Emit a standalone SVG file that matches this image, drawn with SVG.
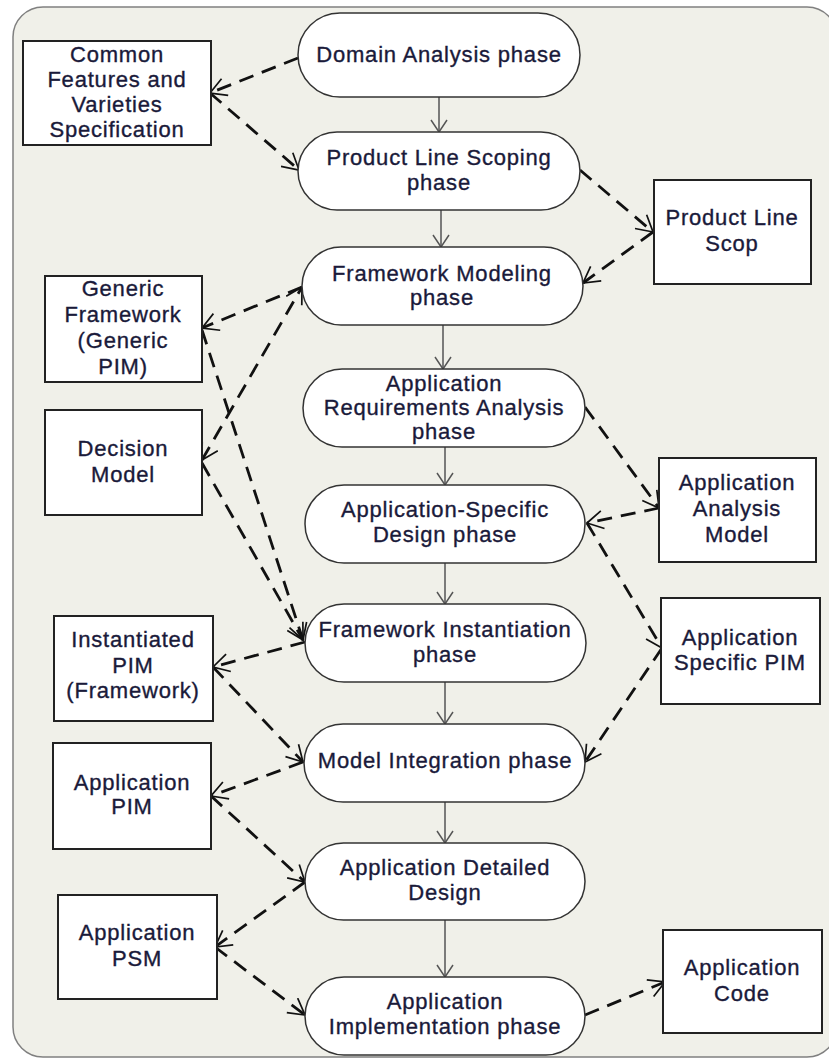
<svg xmlns="http://www.w3.org/2000/svg" width="829" height="1059" viewBox="0 0 829 1059">
<style>
.bg{fill:#f0f0e9;stroke:#808080;stroke-width:1.5}
.ph{fill:#fff;stroke:#333;stroke-width:1.5}
.bx{fill:#fff;stroke:#222;stroke-width:2}
text{font-family:"Liberation Sans",Arial,sans-serif;font-size:22px;letter-spacing:0.8px;fill:#1a1a3a;stroke:#1a1a3a;stroke-width:0.35;text-anchor:middle}
.flow{stroke:#555;stroke-width:1.5;fill:none;marker-end:url(#va)}
.dep{stroke:#111;stroke-width:2.8;fill:none;stroke-dasharray:15 9;marker-end:url(#da)}
</style>
<defs>
<marker id="va" markerUnits="userSpaceOnUse" viewBox="0 0 14 18" refX="13" refY="9" markerWidth="14" markerHeight="18" orient="auto">
<path d="M1,1 L13,9 L1,17" fill="none" stroke="#555" stroke-width="1.5"/>
</marker>
<marker id="da" markerUnits="userSpaceOnUse" viewBox="0 0 18 20" refX="17" refY="10" markerWidth="18" markerHeight="20" orient="auto-start-reverse">
<path d="M1,1 L17,10 L1,19" fill="none" stroke="#111" stroke-width="1.7" stroke-dasharray="none"/>
</marker>
</defs>
<rect class="bg" x="13" y="7" width="824" height="1050" rx="30"/>

<g id="connectors">
<path class="flow" d="M439,97 L439,132"/>
<path class="flow" d="M441,210 L441,247"/>
<path class="flow" d="M443,325 L443,369"/>
<path class="flow" d="M445,447 L445,485"/>
<path class="flow" d="M445,563 L445,604"/>
<path class="flow" d="M445,682 L445,724"/>
<path class="flow" d="M445,802 L445,843"/>
<path class="flow" d="M445,920 L445,977"/>
<path class="dep" d="M298,58 L210,93"/>
<path class="dep" d="M210,93 L299,170"/>
<path class="dep" d="M580,170 L653,232"/>
<path class="dep" d="M653,232 L583,283"/>
<path class="dep" d="M302,287 L202,328"/>
<path class="dep" d="M202,460 L302,287" marker-start="url(#da)"/>
<path class="dep" d="M202,330 L303,640"/>
<path class="dep" d="M202,463 L303,640"/>
<path class="dep" d="M305,642 L213,667"/>
<path class="dep" d="M213,667 L303,762"/>
<path class="dep" d="M303,762 L211,796"/>
<path class="dep" d="M211,796 L305,882"/>
<path class="dep" d="M305,882 L215,947"/>
<path class="dep" d="M215,947 L305,1015"/>
<path class="dep" d="M585,1015 L665,982"/>
<path class="dep" d="M585,407 L659,508"/>
<path class="dep" d="M659,508 L587,523"/>
<path class="dep" d="M587,523 L662,648"/>
<path class="dep" d="M662,648 L585,762"/>
</g>

<g id="domain-analysis"><rect class="ph" x="298" y="13" width="282" height="84" rx="42"/><text x="439" y="62">Domain Analysis phase</text></g>
<g id="product-line-scoping"><rect class="ph" x="298" y="132" width="282" height="78" rx="39"/><text x="439" y="165">Product Line Scoping</text><text x="439" y="190">phase</text></g>
<g id="framework-modeling"><rect class="ph" x="302" y="247" width="281" height="78" rx="39"/><text x="442" y="281">Framework Modeling</text><text x="442" y="305">phase</text></g>
<g id="app-req-analysis"><rect class="ph" x="303" y="369" width="282" height="78" rx="39"/><text x="444" y="391">Application</text><text x="444" y="415">Requirements Analysis</text><text x="444" y="439">phase</text></g>
<g id="app-specific-design"><rect class="ph" x="305" y="485" width="280" height="78" rx="39"/><text x="445" y="517">Application-Specific</text><text x="445" y="542">Design phase</text></g>
<g id="framework-instantiation"><rect class="ph" x="305" y="604" width="281" height="78" rx="39"/><text x="445" y="637">Framework Instantiation</text><text x="445" y="662">phase</text></g>
<g id="model-integration"><rect class="ph" x="304" y="724" width="281" height="78" rx="39"/><text x="445" y="768">Model Integration phase</text></g>
<g id="app-detailed-design"><rect class="ph" x="305" y="843" width="280" height="77" rx="38.5"/><text x="445" y="875">Application Detailed</text><text x="445" y="900">Design</text></g>
<g id="app-implementation"><rect class="ph" x="305" y="977" width="280" height="78" rx="39"/><text x="445" y="1009">Application</text><text x="445" y="1034">Implementation phase</text></g>

<g id="common-features"><rect class="bx" x="23" y="41" width="188" height="104"/><text x="117" y="62">Common</text><text x="117" y="87">Features and</text><text x="117" y="112">Varieties</text><text x="117" y="137">Specification</text></g>
<g id="generic-framework"><rect class="bx" x="45" y="276" width="157" height="106"/><text x="123" y="296">Generic</text><text x="123" y="322">Framework</text><text x="123" y="348">(Generic</text><text x="123" y="374">PIM)</text></g>
<g id="decision-model"><rect class="bx" x="45" y="410" width="157" height="105"/><text x="123" y="456">Decision</text><text x="123" y="482">Model</text></g>
<g id="instantiated-pim"><rect class="bx" x="54" y="616" width="159" height="105"/><text x="133" y="647">Instantiated</text><text x="133" y="673">PIM</text><text x="133" y="698">(Framework)</text></g>
<g id="application-pim"><rect class="bx" x="53" y="743" width="158" height="106"/><text x="132" y="790">Application</text><text x="132" y="814">PIM</text></g>
<g id="application-psm"><rect class="bx" x="58" y="895" width="159" height="104"/><text x="137" y="940">Application</text><text x="137" y="966">PSM</text></g>
<g id="product-line-scop"><rect class="bx" x="654" y="180" width="157" height="104"/><text x="732" y="225">Product Line</text><text x="732" y="251">Scop</text></g>
<g id="app-analysis-model"><rect class="bx" x="659" y="458" width="157" height="104"/><text x="737" y="490">Application</text><text x="737" y="516">Analysis</text><text x="737" y="542">Model</text></g>
<g id="app-specific-pim"><rect class="bx" x="661" y="598" width="159" height="106"/><text x="740" y="645">Application</text><text x="740" y="670">Specific PIM</text></g>
<g id="application-code"><rect class="bx" x="663" y="930" width="159" height="103"/><text x="742" y="975">Application</text><text x="742" y="1001">Code</text></g>
</svg>
